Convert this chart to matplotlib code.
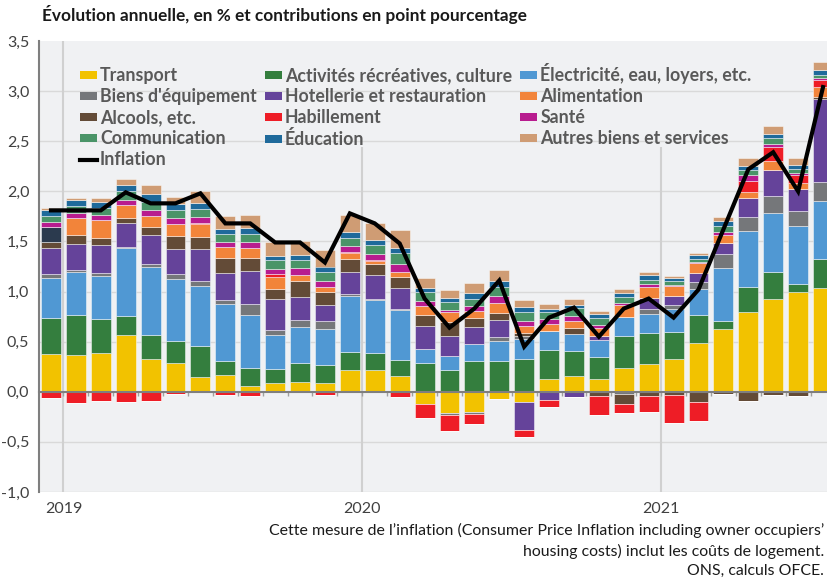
import matplotlib
matplotlib.use('Agg')
import matplotlib.pyplot as plt
from matplotlib.patches import Patch
from matplotlib.lines import Line2D
import numpy as np

plt.rcParams['font.family'] = ['Lato', 'DejaVu Sans']

# monthly contributions, Jan 2019 .. Aug 2021 (points de pourcentage)
months = np.arange(32)
year_labels = ['2019', '2020', '2021']

transport = [0.38, 0.37, 0.39, 0.57, 0.33, 0.29, 0.15, 0.17, 0.06, 0.09, 0.10, 0.09,
             0.22, 0.22, 0.16, -0.12, -0.21, -0.20, -0.07, -0.10, 0.13, 0.16, 0.13, 0.24,
             0.28, 0.33, 0.49, 0.63, 0.80, 0.93, 1.00, 1.04]
activites = [0.36, 0.40, 0.34, 0.19, 0.24, 0.22, 0.31, 0.14, 0.18, 0.14, 0.19, 0.18,
             0.18, 0.17, 0.16, 0.29, 0.22, 0.31, 0.31, 0.33, 0.29, 0.25, 0.22, 0.32,
             0.31, 0.27, 0.28, 0.08, 0.25, 0.27, 0.08, 0.28]
electricite = [0.40, 0.43, 0.43, 0.67, 0.68, 0.62, 0.60, 0.57, 0.53, 0.34, 0.36, 0.36,
               0.56, 0.53, 0.50, 0.14, 0.14, 0.17, 0.20, 0.20, 0.19, 0.17, 0.17, 0.19,
               0.19, 0.23, 0.26, 0.53, 0.55, 0.58, 0.57, 0.58]
biens_equip = [0.04, 0.02, 0.03, 0.01, 0.02, 0.05, 0.05, 0.04, 0.11, 0.05, 0.07, 0.08,
               0.02, 0.01, 0.01, 0.00, -0.02, -0.02, 0.04, 0.03, 0.00, 0.00, 0.00, -0.02,
               0.05, 0.04, 0.07, 0.13, 0.14, 0.17, 0.15, 0.19]
hotellerie = [0.25, 0.25, 0.27, 0.24, 0.29, 0.24, 0.31, 0.27, 0.33, 0.31, 0.23, 0.16,
              0.22, 0.24, 0.21, 0.23, 0.20, 0.17, 0.17, -0.28, -0.08, -0.05, 0.04, 0.00,
              0.11, 0.09, 0.09, 0.11, 0.19, 0.26, 0.22, 0.83]
alcools = [0.06, 0.09, 0.07, 0.05, 0.08, 0.13, 0.12, 0.14, 0.12, 0.10, 0.16, 0.13,
           0.12, 0.10, 0.11, 0.11, 0.14, 0.09, 0.07, 0.03, 0.00, 0.06, -0.04, -0.10,
           -0.04, -0.03, -0.10, -0.02, -0.09, -0.03, -0.04, 0.02]
alimentation = [0.15, 0.17, 0.18, 0.13, 0.11, 0.12, 0.13, 0.11, 0.10, 0.12, 0.06, 0.05,
                0.06, 0.03, 0.05, 0.09, 0.10, 0.07, 0.10, 0.07, 0.07, 0.07, 0.08, 0.12,
                0.11, 0.10, 0.09, 0.08, 0.06, 0.09, 0.06, 0.10]
habillement = [-0.065, -0.11, -0.09, -0.10, -0.09, -0.02, 0.01, -0.035, -0.045, 0.03, 0.00, -0.035,
               0.01, 0.015, -0.05, -0.14, -0.16, -0.10, 0.00, -0.07, -0.07, 0.00, -0.19, -0.09,
               -0.16, -0.28, -0.19, 0.00, 0.11, 0.14, 0.08, 0.07]
sante = [0.05, 0.05, 0.05, 0.05, 0.06, 0.06, 0.06, 0.05, 0.06, 0.05, 0.07, 0.06,
         0.06, 0.06, 0.07, 0.05, 0.02, 0.05, 0.07, 0.05, 0.05, 0.05, 0.03, 0.02,
         0.03, 0.01, 0.01, 0.03, 0.06, 0.03, 0.02, 0.02]
communication = [0.06, 0.07, 0.07, 0.09, 0.08, 0.08, 0.08, 0.08, 0.08, 0.08, 0.07, 0.09,
                 0.08, 0.09, 0.11, 0.09, 0.08, 0.07, 0.09, 0.09, 0.07, 0.08, 0.07, 0.06,
                 0.04, 0.04, 0.03, 0.06, 0.05, 0.06, 0.04, 0.03]
education = [0.06, 0.06, 0.06, 0.06, 0.08, 0.06, 0.06, 0.05, 0.06, 0.04, 0.05, 0.05,
             0.06, 0.05, 0.05, 0.04, 0.04, 0.06, 0.06, 0.05, 0.03, 0.03, 0.04, 0.04,
             0.05, 0.03, 0.04, 0.05, 0.04, 0.04, 0.04, 0.05]
autres = [0.025, 0.02, 0.04, 0.06, 0.09, 0.07, 0.12, 0.13, 0.13, 0.14, 0.14, 0.16,
          0.17, 0.17, 0.18, 0.10, 0.08, 0.10, 0.11, 0.07, 0.05, 0.06, 0.03, 0.04,
          0.03, 0.02, 0.02, 0.04, 0.08, 0.08, 0.07, 0.08]
inflation = [1.81, 1.81, 1.81, 1.99, 1.88, 1.88, 1.98, 1.68, 1.68, 1.49, 1.49, 1.29,
             1.78, 1.68, 1.48, 0.93, 0.64, 0.83, 1.11, 0.45, 0.74, 0.84, 0.55, 0.83,
             0.93, 0.74, 1.02, 1.62, 2.22, 2.39, 2.00, 3.04]

# stacking order (bottom -> top)
series = [
    ('Transport', transport, '#F2C200'),
    ('Activités récréatives, culture', activites, '#347E3E'),
    ('Électricité, eau, loyers, etc.', electricite, '#5098D3'),
    ("Biens d'équipement", biens_equip, '#75777A'),
    ('Hotellerie et restauration', hotellerie, '#65439A'),
    ('Alcools, etc.', alcools, '#634B37'),
    ('Alimentation', alimentation, '#F2843A'),
    ('Habillement', habillement, '#EE1D26'),
    ('Santé', sante, '#B81C8F'),
    ('Communication', communication, '#4A9468'),
    ('Éducation', education, '#1F6A9B'),
    ('Autres biens et services', autres, '#CF9C74'),
]

fig = plt.figure(figsize=(8.28, 5.85), dpi=100)
ax = fig.add_axes([39/828, 93/585, 789/828, 451/585])
ax.set_facecolor('#F0F1F3')

pos_base = np.zeros(len(months))
neg_base = np.zeros(len(months))
bar_sets = {}
for name, vals, col in series:
    v = np.array(vals)
    pos = np.where(v > 0, v, 0)
    neg = np.where(v < 0, v, 0)
    b1 = ax.bar(months, pos, 0.8, bottom=pos_base, color=col,
                edgecolor=(1, 1, 1, 0.55), linewidth=0.6, zorder=3)
    ax.bar(months, neg, 0.8, bottom=neg_base, color=col,
           edgecolor=(1, 1, 1, 0.55), linewidth=0.6, zorder=3)
    bar_sets[name] = b1
    pos_base += pos
    neg_base += neg

# the first month's food segment is dark in the original
bar_sets['Alimentation'][0].set_facecolor('#2B3A4E')

ax.plot(months, inflation, color='black', lw=3, zorder=5, solid_joinstyle='miter')

ax.set_ylim(-1.0, 3.5)
ax.set_xlim(-0.482, 31.2)
yt = np.arange(-1.0, 3.51, 0.5)
ax.set_yticks(yt)
ax.set_yticklabels([f'{t:.1f}'.replace('.', ',') for t in yt], fontsize=11.5, color='#404040')
ax.tick_params(axis='y', length=0, pad=7)
for t in yt:
    if t != 0 and t < 3.5:
        ax.axhline(t, color='#D9D9D9', lw=1, zorder=1)

# year separators
ax.vlines(0.5, -1.0, 3.5, color='#D0D0D0', lw=1.5, zorder=1)
ax.vlines([12.5, 24.5], -1.0, 2.44, color='#D0D0D0', lw=1.5, zorder=1)
for x, lab in zip([0.5, 12.5, 24.5], year_labels):
    ax.text(x, -1.1, lab, ha='center', va='top', fontsize=11.5, color='#404040')

ax.spines['bottom'].set_position(('data', 0))
ax.spines['bottom'].set_color('#7F7F7F')
ax.spines['bottom'].set_linewidth(1.5)
ax.spines['bottom'].set_zorder(4)
ax.spines['left'].set_color('#7F7F7F')
ax.spines['left'].set_linewidth(1.5)
ax.spines['top'].set_visible(False)
ax.spines['right'].set_visible(False)
ax.set_xticks(np.arange(0.5, 31, 1))
ax.set_xticklabels([])
ax.tick_params(axis='x', length=3, width=1, color='#A0A0A0', direction='out')

# legend, filled column by column
col_lookup = {n: c for n, _, c in series}
def key(n):
    return Patch(facecolor=col_lookup[n], edgecolor='none', label=n)
order = ['Transport', "Biens d'équipement", 'Alcools, etc.', 'Communication', None,
         'Activités récréatives, culture', 'Hotellerie et restauration', 'Habillement', 'Éducation',
         'Électricité, eau, loyers, etc.', 'Alimentation', 'Santé', 'Autres biens et services']
handles = []
for n in order:
    if n is None:
        handles.append(Line2D([], [], color='black', lw=3, label='Inflation'))
    else:
        handles.append(key(n))
leg = ax.legend(handles=handles, ncol=3, loc='upper left', bbox_to_anchor=(0.052, 0.951),
                frameon=False, borderpad=0, borderaxespad=0, handlelength=0.95,
                handleheight=0.3, handletextpad=0.18, columnspacing=0.45, labelspacing=0.23,
                prop={'size': 12.8, 'weight': 'bold'})
for t in leg.get_texts():
    t.set_color('#595959')

fig.text(42/828, 1 - 15/585, 'Évolution annuelle, en % et contributions en point pourcentage',
         fontsize=12.4, fontweight='bold', color='#1A1A1A', ha='left', va='center')

fig.text(824/828, 1 - 523/585,
         'Cette mesure de l\u2019inflation (Consumer Price Inflation including owner occupiers\u2019\n'
         'housing costs) inclut les coûts de logement.\n'
         'ONS, calculs OFCE.',
         fontsize=11.4, color='#1A1A1A', ha='right', va='top', linespacing=1.45)

fig.savefig('out.png', dpi=100)
